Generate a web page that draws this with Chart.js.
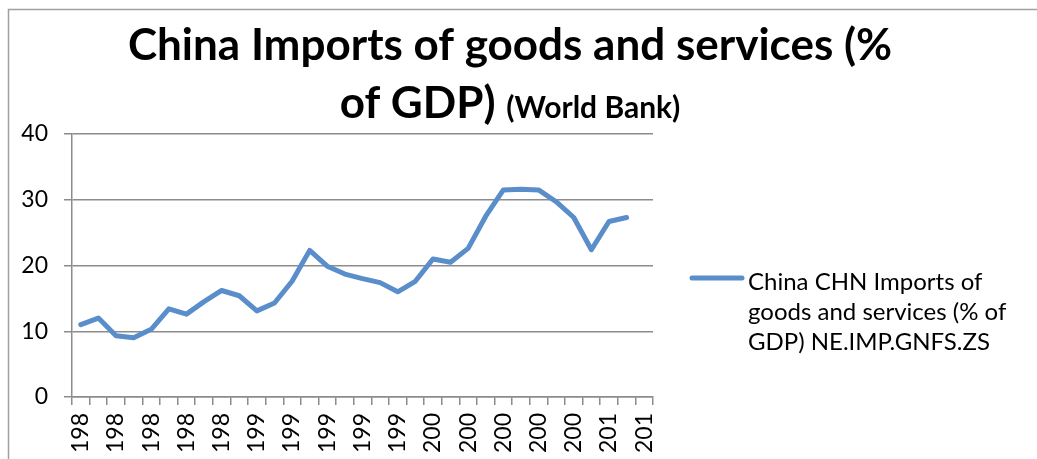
<!DOCTYPE html>
<html>
<head>
<meta charset="utf-8">
<script src="https://cdn.jsdelivr.net/npm/chart.js@4/dist/chart.umd.min.js"></script>
<style>
  html, body { margin: 0; padding: 0; background: #fff; overflow: hidden; }
  #chart { display: block; }
</style>
</head>
<body>
<canvas id="chart" width="1037" height="459"></canvas>
<script>
const years = [
    1980, 1981, 1982, 1983, 1984, 1985, 1986, 1987, 1988, 1989,
    1990, 1991, 1992, 1993, 1994, 1995, 1996, 1997, 1998, 1999,
    2000, 2001, 2002, 2003, 2004, 2005, 2006, 2007, 2008, 2009,
    2010, 2011, 2012
]
// imports of goods and services, % of GDP (no figure yet for 2012)
const imports = [
    11.0, 12.0, 9.3, 9.0, 10.3, 13.4, 12.6, 14.5, 16.2, 15.4,
    13.1, 14.3, 17.6, 22.3, 19.9, 18.7, 18.0, 17.4, 16.0, 17.6,
    21.0, 20.5, 22.6, 27.5, 31.5, 31.6, 31.5, 29.7, 27.3, 22.4,
    26.7, 27.3, null
]
const yTicks = [0, 10, 20, 30, 40]

const titleLine1 = "China Imports of goods and services (%"
const titleLine2 = "of GDP)"
const titleSource = "(World Bank)"
const legendLines = ["China CHN Imports of", "goods and services (% of", "GDP) NE.IMP.GNFS.ZS"]

const blue = "#5a8ecb"
const gray = "#8c8c8c"
const font = "Lato"

Chart.defaults.font.family = font

// title, legend and the outer frame are drawn by hand
const decorations = {
    id: "decorations",
    afterDraw(chart) {
        const ctx = chart.ctx
        ctx.save()

        // frame
        ctx.strokeStyle = "#a0a0a0"
        ctx.lineWidth = 1.5
        ctx.beginPath()
        ctx.moveTo(8.5, 459)
        ctx.lineTo(8.5, 9.5)
        ctx.lineTo(1037, 9.5)
        ctx.stroke()

        // title
        const big = `bold 44px ${font}`
        const small = `bold 30px ${font}`
        ctx.fillStyle = "#000"
        ctx.textBaseline = "alphabetic"
        ctx.textAlign = "center"
        ctx.font = big
        ctx.fillText(titleLine1, 510, 60)

        ctx.textAlign = "left"
        const w1 = ctx.measureText(titleLine2 + " ").width
        ctx.font = small
        const w2 = ctx.measureText(titleSource).width
        const x = 510 - (w1 + w2) / 2
        ctx.font = big
        ctx.fillText(titleLine2, x, 118)
        ctx.font = small
        ctx.fillText(titleSource, x + w1, 118)

        // legend
        const ds = chart.data.datasets[0]
        ctx.strokeStyle = ds.borderColor
        ctx.lineWidth = ds.borderWidth
        ctx.lineCap = "round"
        ctx.beginPath()
        ctx.moveTo(692, 278)
        ctx.lineTo(742, 278)
        ctx.stroke()

        ctx.font = `24px ${font}`
        legendLines.forEach((line, i) => {
            ctx.fillText(line, 748, 290 + i * 30)
        })

        ctx.restore()
    }
}

const myChart = new Chart(document.querySelector("#chart"), {
    type: "line",
    data: {
        labels: years,
        datasets: [
            {
                label: legendLines.join(" "),
                data: imports,
                borderColor: blue,
                borderWidth: 5,
                borderCapStyle: "round",
                borderJoinStyle: "round",
                pointRadius: 0,
                tension: 0,
                spanGaps: false
            }
        ]
    },
    options: {
        responsive: false,
        animation: false,
        layout: { padding: { top: 134, right: 384, left: 0, bottom: 0 } },
        plugins: {
            legend: { display: false },
            title: { display: false },
            tooltip: { enabled: false }
        },
        scales: {
            x: {
                offset: true,
                grid: {
                    offset: true,
                    drawOnChartArea: false,
                    tickLength: 8,
                    color: gray,
                    lineWidth: 1.5
                },
                border: { color: gray, width: 1.5 },
                ticks: {
                    autoSkip: false,
                    maxRotation: 90,
                    minRotation: 90,
                    padding: 8,
                    color: "#000",
                    font: { size: 23 },
                    // labels are cut to three characters, every other year
                    callback: (value, i) => i % 2 ? "" : String(years[i]).slice(0, 3)
                },
                afterFit: (scale) => { scale.height = 62 }
            },
            y: {
                min: yTicks[0],
                max: yTicks[yTicks.length - 1],
                afterBuildTicks: (scale) => { scale.ticks = yTicks.map((v) => ({ value: v })) },
                grid: { color: gray, lineWidth: 1.5, tickLength: 8 },
                border: { color: gray, width: 1.5 },
                ticks: {
                    padding: 16,
                    color: "#000",
                    font: { size: 23 }
                },
                afterFit: (scale) => { scale.width = 72 }
            }
        }
    },
    plugins: [decorations]
})
</script>
</body>
</html>
